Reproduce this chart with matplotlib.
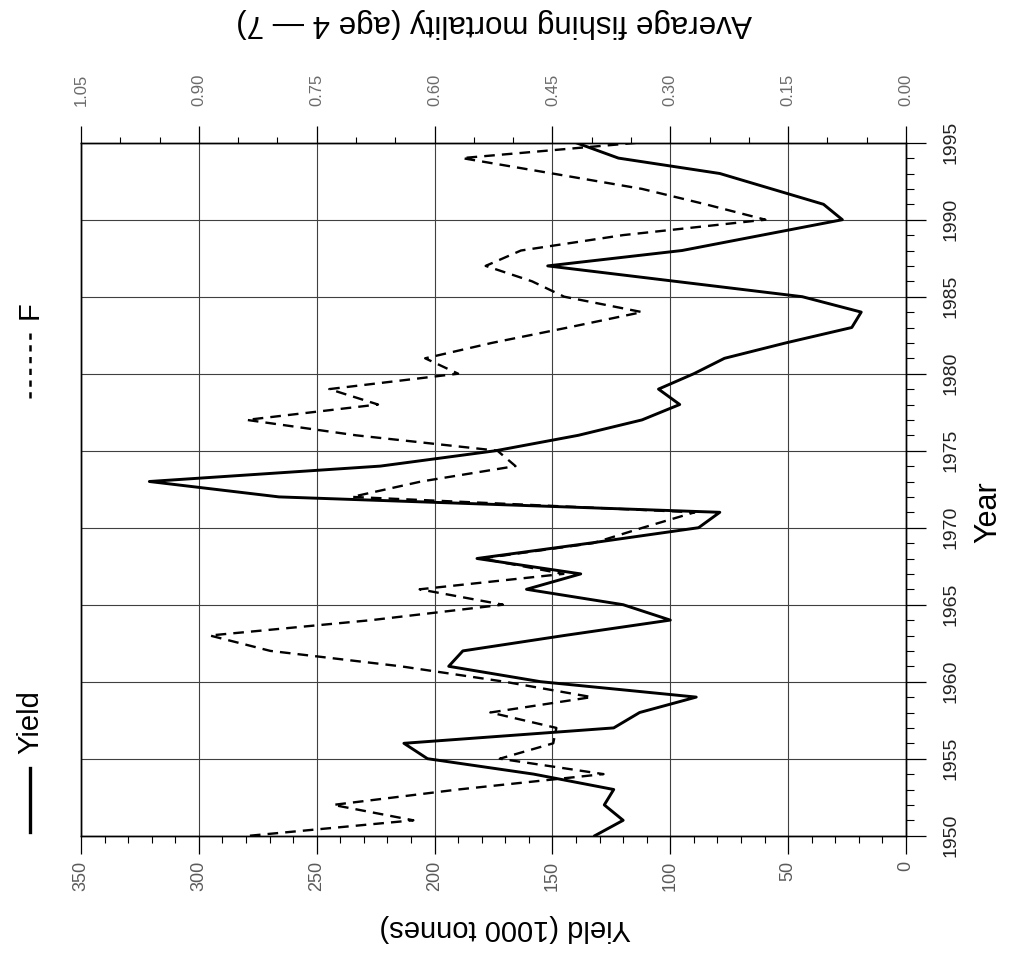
import numpy as np
import matplotlib.pyplot as plt
from matplotlib.lines import Line2D
from matplotlib.ticker import MultipleLocator, FixedLocator, FormatStrFormatter

years = np.arange(1950, 1996)
yield_kt = [132, 120, 128, 124, 158, 203, 213, 124, 113, 89,
            155, 194, 188, 145, 100, 120, 161, 138, 182, 134,
            88, 79, 266, 321, 223, 174, 139, 112, 96, 105,
            90, 77, 51, 23, 19, 44, 98, 152, 95, 61,
            27, 35, 57, 79, 122, 140]
f_mort = [0.835, 0.627, 0.729, 0.570, 0.385, 0.517, 0.449, 0.445, 0.529, 0.400,
          0.511, 0.643, 0.809, 0.886, 0.680, 0.513, 0.619, 0.436, 0.540, 0.398,
          0.335, 0.269, 0.705, 0.617, 0.497, 0.520, 0.700, 0.839, 0.672, 0.734,
          0.570, 0.612, 0.527, 0.430, 0.336, 0.435, 0.476, 0.535, 0.490, 0.360,
          0.179, 0.255, 0.336, 0.450, 0.565, 0.341]

yield_ticks = [0, 50, 100, 150, 200, 250, 300, 350]
f_ticks = [0.00, 0.15, 0.30, 0.45, 0.60, 0.75, 0.90, 1.05]

plt.rcParams['font.family'] = ['Liberation Sans', 'DejaVu Sans']

W, H = 1020, 955
fig = plt.figure(figsize=(W / 100, H / 100), dpi=100)

# the whole chart is turned 90 degrees: years run upward, yield runs right-to-left
ax = fig.add_axes([81 / W, 1 - 835.7 / H, 825 / W, 693 / H])
ax.plot(yield_kt, years, color='black', lw=2.1, zorder=3)
ax.set_xlim(350, 0)
ax.set_ylim(1950, 1995)

ax.xaxis.set_major_locator(FixedLocator(yield_ticks))
ax.xaxis.set_minor_locator(MultipleLocator(10))
ax.yaxis.set_major_locator(MultipleLocator(5))
ax.yaxis.set_minor_locator(MultipleLocator(1))
ax.grid(which='major', color='#404040', lw=0.8)

ax.tick_params(axis='x', which='major', direction='out', length=13, width=0.9,
               pad=5, labelsize=13, labelcolor='#5a5a5a', labelrotation=90)
ax.tick_params(axis='x', which='minor', direction='out', length=5, width=0.8)
ax.yaxis.tick_right()
ax.tick_params(axis='y', which='major', direction='out', length=14.5, width=0.9,
               pad=12, labelsize=14, labelcolor='#222222', labelrotation=90)
ax.tick_params(axis='y', which='minor', direction='out', length=5.5, width=0.8)
for lab in ax.get_yticklabels():
    lab.set_va('center')

# F on the other (top) axis
ax2 = ax.twiny()
ax2.plot(f_mort, years, color='black', lw=1.7, dashes=(4.5, 3), zorder=3)
ax2.set_xlim(1.05, 0)
ax2.xaxis.set_major_locator(FixedLocator(f_ticks))
ax2.xaxis.set_minor_locator(MultipleLocator(0.05))
ax2.xaxis.set_major_formatter(FormatStrFormatter('%.2f'))
ax2.tick_params(axis='x', which='major', direction='out', length=12.5, width=0.9,
                pad=14, labelsize=12, labelcolor='#6a6a6a', labelrotation=90)
ax2.tick_params(axis='x', which='minor', direction='out', length=4.5, width=0.8)

for a in (ax, ax2):
    for s in a.spines.values():
        s.set_linewidth(1.0)

# axis titles, turned with the chart
fig.text(505 / W, 1 - 928 / H, 'Yield (1000 tonnes)', rotation=180,
         ha='center', va='center', fontsize=21)
fig.text(494 / W, 1 - 23 / H, 'Average fishing mortality (age 4 \u2014 7)', rotation=180,
         ha='center', va='center', fontsize=22.5)
fig.text(988 / W, 1 - 512 / H, 'Year', rotation=90, ha='center', va='center', fontsize=22)

# legend, drawn by hand because it is rotated too
fig.add_artist(Line2D([30 / W, 30 / W], [1 - 832 / H, 1 - 768 / H],
                      color='black', lw=2.4, transform=fig.transFigure))
fig.text(30 / W, 1 - 722 / H, 'Yield', rotation=90, ha='center', va='center', fontsize=21)
fig.add_artist(Line2D([30 / W, 30 / W], [1 - 398 / H, 1 - 332 / H],
                      color='black', lw=1.8, dashes=(2.5, 2.2), transform=fig.transFigure))
fig.text(30 / W, 1 - 310 / H, 'F', rotation=90, ha='center', va='center', fontsize=21)

fig.savefig('out.png', dpi=100)
